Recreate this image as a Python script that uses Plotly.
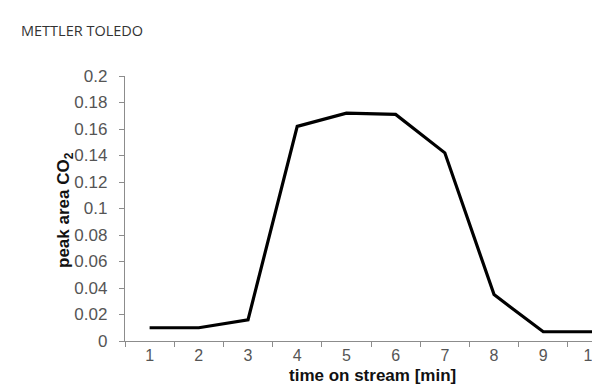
import plotly.graph_objects as go

categories = ["1", "2", "3", "4", "5", "6", "7", "8", "9", "10"]
peak_area_co2 = [0.010, 0.010, 0.016, 0.162, 0.172, 0.171, 0.142, 0.035, 0.007, 0.007]
y_tick_vals = [0, 0.02, 0.04, 0.06, 0.08, 0.1, 0.12, 0.14, 0.16, 0.18, 0.2]
y_tick_text = ["0", "0.02", "0.04", "0.06", "0.08", "0.1", "0.12", "0.14", "0.16", "0.18", "0.2"]

fig = go.Figure()
fig.add_trace(go.Scatter(
    x=categories, y=peak_area_co2, mode="lines",
    line=dict(color="#000000", width=3.2), showlegend=False,
))

axis_grey = "#8c8c8c"
y_tick_font = dict(family="Liberation Sans, Arial, sans-serif", size=17, color="#555555")
x_tick_font = dict(family="Liberation Sans, Arial, sans-serif", size=16, color="#555555")

fig.update_layout(
    width=600, height=385,
    margin=dict(l=117, r=0, t=68, b=52),
    paper_bgcolor="white", plot_bgcolor="white",
    xaxis=dict(
        type="category", range=[-0.5, 9.316], tickson="boundaries",
        showline=True, linecolor=axis_grey, linewidth=1.3,
        ticks="outside", ticklen=5, tickcolor=axis_grey, tickwidth=1.3,
        ticklabeloverflow="allow",
        showgrid=False, zeroline=False, tickfont=x_tick_font,
    ),
    yaxis=dict(
        range=[0, 0.2], tickvals=y_tick_vals, ticktext=y_tick_text,
        showline=True, linecolor=axis_grey, linewidth=1.3,
        ticks="outside", ticklen=5, tickcolor=axis_grey, tickwidth=1.3,
        ticklabelstandoff=8,
        showgrid=False, zeroline=False, tickfont=y_tick_font,
    ),
    annotations=[
        dict(text="METTLER TOLEDO", xref="paper", yref="paper",
             x=(11 - 117) / 483, y=(333 - 22) / 265, xanchor="left", yanchor="middle",
             showarrow=False, font=dict(family="Open Sans, sans-serif", size=14.5, color="#333333")),
        dict(text="<b>time on stream [min]</b>", xref="paper", yref="paper",
             x=(364 - 117) / 483, y=(333 - 367) / 265, xanchor="center", yanchor="middle",
             showarrow=False, font=dict(family="Liberation Sans, Arial, sans-serif", size=17, color="#111111")),
        dict(text="<b>peak area CO<sub>2</sub></b>", xref="paper", yref="paper", textangle=-90,
             x=(57 - 117) / 483, y=(333 - 202) / 265, xanchor="center", yanchor="middle",
             showarrow=False, font=dict(family="Liberation Sans, Arial, sans-serif", size=17, color="#111111")),
    ],
)

fig.write_html("out.html")
